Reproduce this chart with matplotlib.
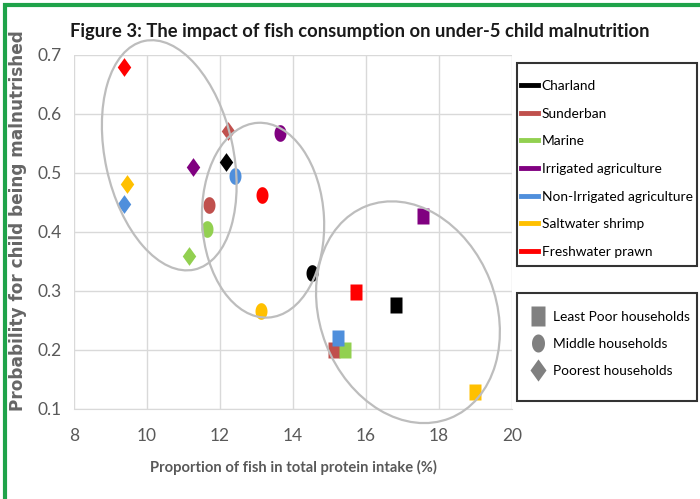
import numpy as np
import matplotlib
matplotlib.use("Agg")
from matplotlib import pyplot as plt
from matplotlib.patches import Ellipse, Rectangle
from matplotlib.lines import Line2D
from matplotlib.transforms import ScaledTranslation

plt.rcParams['font.family'] = ['Lato', 'DejaVu Sans']

regions = ["Charland", "Sunderban", "Marine", "Irrigated agriculture",
           "Non-Irrigated agriculture", "Saltwater shrimp", "Freshwater prawn"]
colors = ["#000000", "#c0504d", "#92d050", "#800080", "#4f8fdc", "#ffc000", "#ff0000"]

# proportion of fish in protein intake (%) and probability, per household group
least_x = [16.82, 15.12, 15.42, 17.55, 15.23, 18.98, 15.74]
least_y = [0.277, 0.200, 0.200, 0.427, 0.221, 0.128, 0.299]
middle_x = [14.51, 11.70, 11.65, 13.65, 12.42, 13.11, 13.16]
middle_y = [0.331, 0.446, 0.405, 0.567, 0.495, 0.266, 0.463]
poorest_x = [12.17, 12.23, 11.16, 11.25, 9.37, 9.45, 9.37]
poorest_y = [0.519, 0.572, 0.359, 0.510, 0.447, 0.481, 0.679]

groups = ["Least Poor households", "Middle households", "Poorest households"]

# grouping ellipses: centre (data), width/height (pixels), angle
ell_centres = [(10.61, 0.530), (13.18, 0.420), (17.15, 0.264)]
ell_sizes = [(128, 234, 12.4), (122, 195, 3), (176, 228, 21.5)]

# marker shapes (image is slightly stretched vertically)
t = np.linspace(0, 2 * np.pi, 60)
sq = [(-0.7, -1), (0.7, -1), (0.7, 1), (-0.7, 1), (-0.7, -1)]
circ = list(zip(0.72 * np.cos(t), np.sin(t)))
diam = [(0, -1), (0.72, 0), (0, 1), (-0.72, 0), (0, -1)]
shapes = [sq, circ, diam]
sizes = [12, 12, 13.5]

W, H = 700, 499
fig = plt.figure(figsize=(7, 4.99), dpi=100)
ax = fig.add_axes([0.1057, 0.1804, 0.6257, 0.7094])
renderer = fig.canvas.get_renderer()


def fit_width(txt, px):
    # scale a text's font size so it spans about px pixels
    w = txt.get_window_extent(renderer).width
    txt.set_fontsize(txt.get_fontsize() * px / w)


def box(x0, y0, x1, y1):
    # legend frame given in picture pixels from the top-left corner
    fig.add_artist(Rectangle((x0 / W, 1 - y1 / H), (x1 - x0) / W, (y1 - y0) / H,
                             transform=fig.transFigure, fill=False,
                             edgecolor="#333333", lw=1.5))


for i, c in enumerate(colors):
    ax.plot(least_x[i], least_y[i], linestyle='none', marker=sq, ms=sizes[0],
            color=c, mec='none', zorder=3)
    ax.plot(middle_x[i], middle_y[i], linestyle='none', marker=circ, ms=sizes[1],
            color=c, mec='none', zorder=3)
    ax.plot(poorest_x[i], poorest_y[i], linestyle='none', marker=diam, ms=sizes[2],
            color=c, mec='none', zorder=3)

for (cx, cy), (w, h, a) in zip(ell_centres, ell_sizes):
    tr = fig.dpi_scale_trans + ScaledTranslation(cx, cy, ax.transData)
    e = Ellipse((0, 0), w / 100, h / 100, angle=a, transform=tr, fill=False,
                edgecolor="#bdbdbd", lw=1.6, clip_on=False, zorder=4)
    ax.add_patch(e)

ax.set_xlim(8, 20)
ax.set_ylim(0.1, 0.7)
ax.set_xticks(np.arange(8, 21, 2))
ax.set_yticks(np.arange(0.1, 0.71, 0.1))
ax.set_yticklabels([f"{v:.1f}" for v in np.arange(0.1, 0.71, 0.1)])
ax.grid(True, color="#d9d9d9", lw=1)
ax.set_axisbelow(True)
for s in ["top", "right", "left"]:
    ax.spines[s].set_visible(False)
ax.spines["bottom"].set_color("#d9d9d9")
ax.tick_params(length=0, labelsize=12.5, labelcolor="#595959")
ax.tick_params(axis='x', pad=14)
ax.tick_params(axis='y', pad=9)

xl = fig.text(0.419, 0.064, "Proportion of fish in total protein intake (%)",
              ha='center', va='center', fontsize=12, color="#595959",
              fontweight='bold')
fit_width(xl, 285)
yl = fig.text(0.026, 0.557, "Probability for child being malnutrished", rotation=90,
              ha='center', va='center', fontsize=12, fontweight='bold',
              color="#666666", family='DejaVu Sans')
yl_h = yl.get_window_extent(renderer).height
yl.set_fontsize(12 * 378 / yl_h)
title = fig.text(0.514, 0.936,
                 "Figure 3: The impact of fish consumption on under-5 child malnutrition",
                 ha='center', va='center', fontsize=14, fontweight='bold',
                 color="#1a1a1a")
fit_width(title, 580)

# legend font size fitted from the widest label
probe = fig.text(0, 0, "Non-Irrigated agriculture", fontsize=10)
fs = 10 * 150 / probe.get_window_extent(renderer).width
probe.remove()

# region legend
box(517, 63, 697, 266)
h1 = [Line2D([], [], color=c, lw=3.5) for c in colors]
fig.legend(h1, regions, loc='upper left', bbox_to_anchor=(521 / W, 1 - 80 / H),
           frameon=False, fontsize=fs, handlelength=1.25, handletextpad=0.25,
           labelspacing=1.14, borderpad=0, borderaxespad=0)

# household legend
box(517, 293, 697, 401)
h2 = [Line2D([], [], linestyle='none', marker=m, ms=s, color="#808080", mec='none')
      for m, s in zip(shapes, [15, 13, 16])]
fig.legend(h2, groups, loc='upper left', bbox_to_anchor=(531 / W, 1 - 311 / H),
           frameon=False, fontsize=fs, handlelength=1.0, handletextpad=0.6,
           labelspacing=1.1, borderpad=0, borderaxespad=0)

# green frame (cropped at right and bottom)
fig.add_artist(Rectangle((5 / W, -0.05), 1.1, 1.05 - 5 / H,
                         transform=fig.transFigure, fill=False,
                         edgecolor="#1fa34a", lw=3))

fig.savefig("out.png", dpi=100)
